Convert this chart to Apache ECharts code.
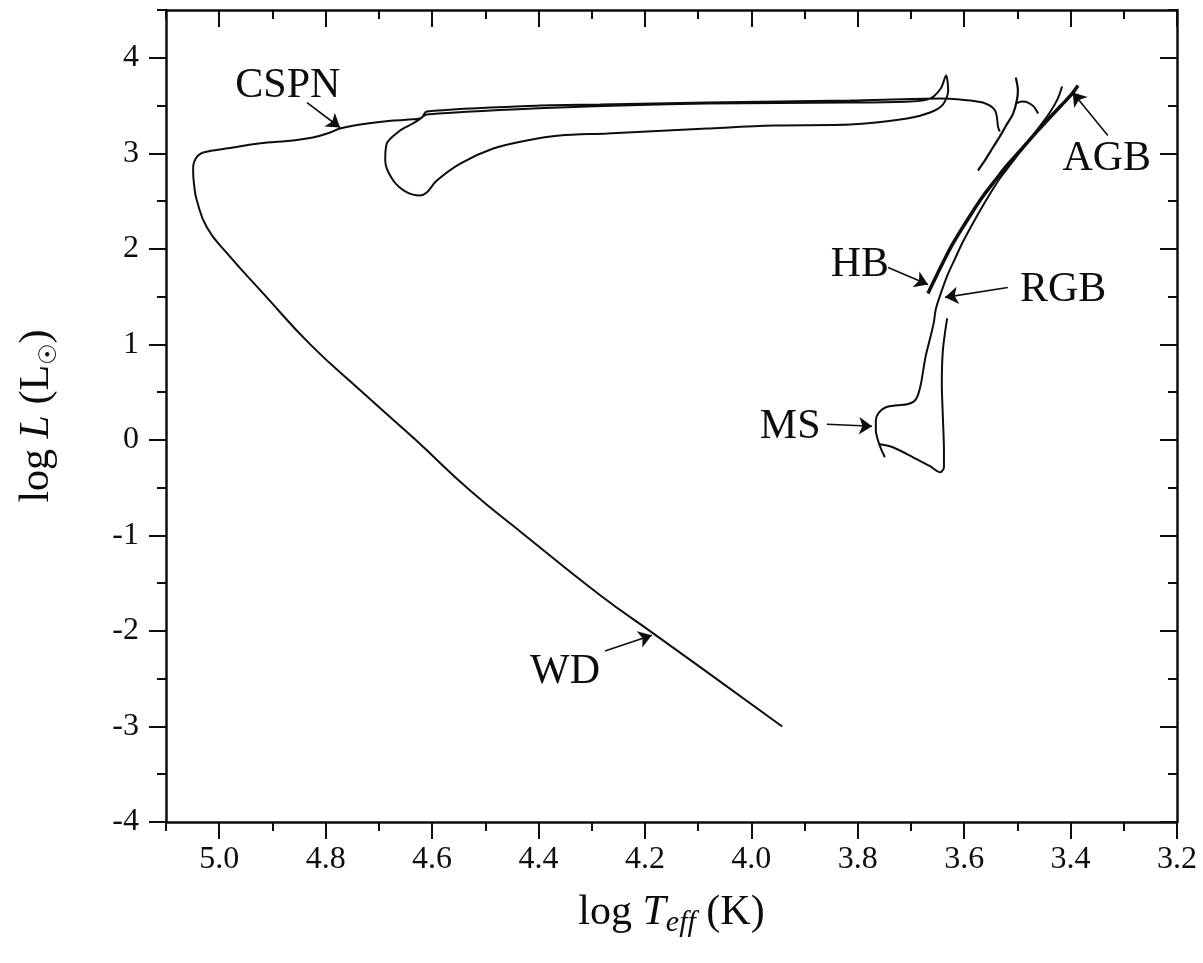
<!DOCTYPE html>
<html>
<head>
<meta charset="utf-8">
<script src="https://cdn.jsdelivr.net/npm/echarts@6/dist/echarts.min.js"></script>
<style>
  html, body { margin: 0; padding: 0; background: #fff; }
  #chart { width: 1203px; height: 963px; }
</style>
</head>
<body>
<div id="chart"></div>
<script>
// Evolutionary track of a low-mass star: [log Teff, log L]
// Main sequence up the red giant branch
const msRgbTrack = [
  [3.749,-0.182],[3.756,-0.098],[3.762,-0.004],[3.766,0.100],[3.766,0.205],[3.760,0.289],
  [3.747,0.341],[3.726,0.362],[3.707,0.372],[3.694,0.404],[3.687,0.466],[3.681,0.592],
  [3.677,0.728],[3.672,0.885],[3.664,1.063],[3.657,1.230],[3.653,1.376],[3.640,1.596],
  [3.630,1.743],[3.617,1.899],[3.604,2.056],[3.589,2.213],[3.570,2.402],[3.551,2.579],
  [3.533,2.736],[3.510,2.904],[3.486,3.081],[3.461,3.259],[3.439,3.427],[3.424,3.573],
  [3.416,3.699]
];
// Branch running down and back up beside the main sequence
const sideBranch = [
  [3.758,-0.046],[3.734,-0.077],[3.696,-0.182],[3.664,-0.276],[3.645,-0.339],[3.638,-0.287],
  [3.638,-0.109],[3.640,0.236],[3.642,0.592],[3.640,0.937],[3.632,1.272]
];
// Horizontal branch climbing onto the asymptotic giant branch
const hbAgbTrack = [
  [3.668,1.533],[3.660,1.627],[3.649,1.753],[3.636,1.899],[3.621,2.056],[3.604,2.213],
  [3.585,2.381],[3.565,2.548],[3.542,2.715],[3.518,2.883],[3.491,3.050],[3.465,3.217],
  [3.439,3.374],[3.416,3.510],[3.397,3.625],[3.386,3.709]
];
// Early AGB line with its thermal-pulse spike
const pulseSpike = [
  [3.574,2.820],[3.561,2.925],[3.546,3.061],[3.533,3.176],[3.520,3.301],[3.508,3.416],
  [3.501,3.552],[3.499,3.657],[3.503,3.793]
];
const pulseBump = [
  [3.503,3.521],[3.491,3.542],[3.480,3.531],[3.469,3.489],[3.461,3.416]
];
// Post-AGB crossing, loop and central star of planetary nebula
const postAgbTrack = [
  [3.533,3.228],[3.536,3.270],[3.542,3.448],[3.565,3.531],[3.608,3.563],[3.645,3.573],
  [3.815,3.552],[4.083,3.531],[4.284,3.510],[4.397,3.500],[4.610,3.437],
  [4.619,3.375],[4.636,3.312],[4.660,3.238],[4.685,3.103],[4.688,2.925],[4.673,2.715],
  [4.647,2.590],[4.623,2.559],[4.610,2.590],[4.591,2.715],[4.547,2.893],[4.485,3.050],
  [4.422,3.134],[4.360,3.186],[4.271,3.207],[4.083,3.259],[3.959,3.291],[3.815,3.301],
  [3.707,3.364],[3.664,3.427],[3.640,3.510],[3.630,3.657],[3.634,3.814],[3.644,3.678],
  [3.664,3.573],[3.702,3.542],[3.815,3.531],[4.083,3.521],[4.360,3.479],[4.610,3.406],
  [4.623,3.364],[4.673,3.343],[4.735,3.301],[4.773,3.259],[4.797,3.207],[4.824,3.165],
  [4.861,3.134],[4.923,3.105],[4.974,3.061],[5.012,3.029],[5.030,3.008]
];
// Turn-down and white-dwarf cooling sequence
const wdTrack = [
  [5.030,3.008],[5.044,2.945],[5.049,2.820],[5.047,2.663],[5.042,2.506],[5.023,2.224],
  [4.985,1.952],[4.914,1.513],[4.829,1.000],[4.735,0.519],[4.632,0.006],[4.529,-0.527],
  [4.425,-1.000],[4.284,-1.626],[4.185,-2.023],[4.096,-2.379],[3.942,-3.000]
];

// Phase labels and their pointer arrows
const labelNames = ['CSPN', 'AGB', 'HB', 'RGB', 'MS', 'WD'];
const labelAt    = [[4.871,3.709],[3.332,2.945],[3.796,1.826],[3.414,1.565],[3.927,0.132],[4.350,-2.431]];
const arrowFrom  = [[4.835,3.531],[3.330,3.186],[3.743,1.805],[3.518,1.596],[3.858,0.163],[4.275,-2.211]];
const arrowTo    = [[4.773,3.270],[3.396,3.636],[3.668,1.627],[3.636,1.492],[3.773,0.142],[4.187,-2.044]];

// Axis ticks
const tempTicks = [3.2, 3.4, 3.6, 3.8, 4.0, 4.2, 4.4, 4.6, 4.8, 5.0];
const lumTicks  = [-4, -3, -2, -1, 0, 1, 2, 3, 4];

const INK = '#0d0d0d';
const SERIF = "'Liberation Serif', 'DejaVu Serif', serif";
const T_MIN = 3.2, T_MAX = 5.1, L_MIN = -4, L_MAX = 4.5;

function minorAxis(pos, minor, lo, hi, inverse, inside) {
  return {
    type: 'value', position: pos, min: lo, max: hi, interval: minor, inverse: inverse,
    axisLine: { show: true, onZero: false, lineStyle: { color: INK, width: 2.5 } },
    axisTick: { show: true, inside: inside, length: 9, lineStyle: { color: INK, width: 2 } },
    axisLabel: { show: false },
    splitLine: { show: false }
  };
}
function majorAxis(pos, ticks, lo, hi, inverse, inside, withLabels, fmt, margin) {
  return {
    type: 'value', position: pos, min: lo, max: hi, inverse: inverse,
    axisLine: { show: false, onZero: false },
    axisTick: { show: true, inside: inside, length: 17, customValues: ticks,
                lineStyle: { color: INK, width: 2 } },
    axisLabel: { show: withLabels, customValues: ticks, formatter: fmt, margin: margin,
                 fontFamily: SERIF, fontSize: 32, color: INK },
    splitLine: { show: false }
  };
}

const xBottomMajor = majorAxis('bottom', tempTicks, T_MIN, T_MAX, true, false, true,
  v => Number(v).toFixed(1), 22);
xBottomMajor.name = '{n|log }{i|T}{s|eff}{n| (K)}';
xBottomMajor.nameLocation = 'middle';
xBottomMajor.nameGap = 66;
xBottomMajor.nameTextStyle = {
  fontFamily: SERIF, fontSize: 42, color: INK,
  rich: {
    n: { fontFamily: SERIF, fontSize: 42, color: INK, lineHeight: 50 },
    i: { fontFamily: SERIF, fontSize: 42, fontStyle: 'italic', color: INK, lineHeight: 50 },
    s: { fontFamily: SERIF, fontSize: 30, fontStyle: 'italic', color: INK, lineHeight: 22, verticalAlign: 'bottom' }
  }
};

const yLeftMajor = majorAxis('left', lumTicks, L_MIN, L_MAX, false, false, true,
  v => String(v), 27);
yLeftMajor.name = '{n|log }{i|L}{n| (L}{s|☉}{n|)}';
yLeftMajor.nameLocation = 'middle';
yLeftMajor.nameRotate = 90;
yLeftMajor.nameGap = 104;
yLeftMajor.nameTextStyle = {
  fontFamily: SERIF, fontSize: 42, color: INK,
  rich: {
    n: { fontFamily: SERIF, fontSize: 42, color: INK, lineHeight: 50 },
    i: { fontFamily: SERIF, fontSize: 42, fontStyle: 'italic', color: INK, lineHeight: 50 },
    s: { fontFamily: "'DejaVu Sans', sans-serif", fontSize: 24, color: INK, lineHeight: 22, verticalAlign: 'bottom' }
  }
};

function trackSeries(data, width, smooth) {
  return {
    type: 'line', data: data, xAxisIndex: 0, yAxisIndex: 0,
    showSymbol: false, symbol: 'none', smooth: smooth, silent: true, clip: true,
    lineStyle: { color: INK, width: width }
  };
}

const option = {
  backgroundColor: '#fff',
  animation: false,
  grid: { left: 166, right: 26, top: 10, bottom: 141, containLabel: false, outerBoundsMode: 'none' },
  xAxis: [
    minorAxis('bottom', 0.1, T_MIN, T_MAX, true, false),
    xBottomMajor,
    minorAxis('top', 0.1, T_MIN, T_MAX, true, true),
    majorAxis('top', tempTicks, T_MIN, T_MAX, true, true, false)
  ],
  yAxis: [
    minorAxis('left', 0.5, L_MIN, L_MAX, false, false),
    yLeftMajor,
    minorAxis('right', 0.5, L_MIN, L_MAX, false, true),
    majorAxis('right', lumTicks, L_MIN, L_MAX, false, true, false)
  ],
  series: [
    trackSeries(msRgbTrack, 2, 0.3),
    trackSeries(sideBranch, 2, 0.3),
    trackSeries(hbAgbTrack, 3.5, 0.3),
    trackSeries(pulseSpike, 2.2, 0.3),
    trackSeries(pulseBump, 2, 0.3),
    trackSeries(postAgbTrack, 2, 0.3),
    trackSeries(wdTrack, 2, 0.5),
    {
      type: 'scatter', xAxisIndex: 0, yAxisIndex: 0, silent: true,
      symbol: 'circle', symbolSize: 1,
      itemStyle: { color: 'rgba(0,0,0,0)', opacity: 1 },
      data: labelNames.map((name, i) => ({ name: name, value: labelAt[i] })),
      label: {
        show: true, position: 'inside', formatter: '{b}', opacity: 1,
        fontFamily: SERIF, fontSize: 42, color: INK
      },
      markLine: {
        silent: true, animation: false,
        symbol: ['none', 'arrow'], symbolSize: 13,
        label: { show: false },
        lineStyle: { color: INK, width: 1.6, type: 'solid', opacity: 1 },
        data: arrowFrom.map((p, i) => [{ coord: p }, { coord: arrowTo[i] }])
      }
    }
  ]
};

const chart = echarts.init(document.getElementById('chart'), null, { renderer: 'canvas' });
chart.setOption(option);
</script>
</body>
</html>
